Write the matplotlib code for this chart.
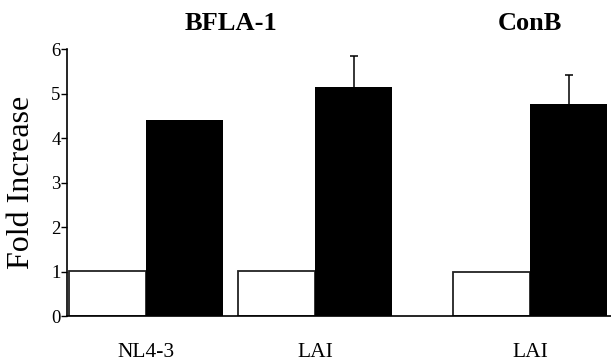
import matplotlib.pyplot as plt
import numpy as np

# Data
groups = ['NL4-3', 'LAI', 'LAI']
group_pos = [0.0, 2.2, 5.0]
control = [1.02, 1.02, 1.0]
treated = [4.40, 5.15, 4.76]
treated_err = [0.0, 0.71, 0.66]
panel_titles = ['BFLA-1', 'ConB']
panel_title_pos = [1.1, 5.0]

plt.rcParams['font.family'] = ['Liberation Serif', 'DejaVu Serif']

fig = plt.figure(figsize=(6.11, 3.63), dpi=100)
ax = fig.add_axes([0.1096, 0.1289, 0.8904, 0.7353])

x = np.array(group_pos)
ax.bar(x - 0.5, control, width=1.0, color='white', edgecolor='#222222', linewidth=1.3)
ax.bar(x + 0.5, treated, width=1.0, color='black', edgecolor='black', linewidth=0)

# Upward-only error bars (hide the lower cap)
has_err = np.array(treated_err) > 0
eb = ax.errorbar((x + 0.5)[has_err], np.array(treated)[has_err],
                 yerr=[np.zeros(has_err.sum()), np.array(treated_err)[has_err]],
                 fmt='none', ecolor='black', elinewidth=1.1, capsize=3.2, capthick=1.1)
eb[1][0].set_visible(False)

ax.set_xlim(-1.03, 6.05)
ax.set_ylim(0, 6)
ax.set_yticks(range(0, 7))
ax.tick_params(axis='y', direction='out', length=4, width=1, pad=0.5, labelsize=13.5)
ax.set_xticks(x)
ax.set_xticklabels(groups, fontsize=15.5)
ax.tick_params(axis='x', length=0, pad=19)

for side in ['top', 'right']:
    ax.spines[side].set_visible(False)
for side in ['left', 'bottom']:
    ax.spines[side].set_linewidth(1.2)

ax.set_ylabel('Fold Increase', fontsize=23, va='center')
ax.yaxis.set_label_coords(-0.083, 0.5)

for t, p in zip(panel_titles, panel_title_pos):
    ax.text(p, 6.58, t, fontsize=19, fontweight='bold', ha='center', va='center',
            clip_on=False)

plt.savefig('out.png', dpi=100)
plt.close()
